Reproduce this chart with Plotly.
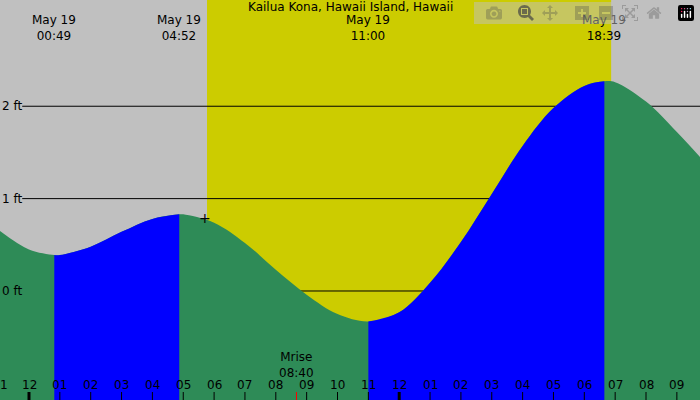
import plotly.graph_objects as go

# tide readings (hours from midnight May 19, feet)
hours = [-0.94, 0, 0.82, 1, 2, 3, 4, 4.87, 5, 6, 7, 8, 9, 10, 11.0, 12, 13, 14, 15, 16, 17, 18, 18.65, 19, 20, 21, 21.75]
feet  = [0.65, 0.45, 0.39, 0.39, 0.48, 0.64, 0.78, 0.83, 0.83, 0.74, 0.52, 0.23, -0.04, -0.25, -0.33, -0.23, 0.09, 0.53, 1.05, 1.57, 1.98, 2.22, 2.27, 2.26, 2.05, 1.72, 1.45]
extreme_hours = [0.82, 4.87, 11.0, 18.65]
extreme_labels = ["May 19<br>00:49", "May 19<br>04:52", "May 19<br>11:00", "May 19<br>18:39"]
sunrise, sunset = 5.77, 18.87
moonrise, moonrise_label = 8.67, "Mrise<br>08:40"
tick_hours = list(range(-1, 22))
tick_labels = ["1" if h == -1 else ("12" if h in (0, 12) else f"{h % 12:02d}") for h in tick_hours]
ft_levels = [0, 1, 2]

X0, X1, Y0, Y1 = -0.94, 21.75, -1.18, 3.15
fig = go.Figure()
base = Y0
fig.add_trace(go.Scatter(x=[X0, X1], y=[base, base], mode="lines", line=dict(width=0), showlegend=False))
fig.add_trace(go.Scatter(x=hours, y=feet, mode="lines", line=dict(width=0, shape="spline"),
                         fill="tonexty", fillcolor="#2e8b57", showlegend=False))
for a, b in [(extreme_hours[0], extreme_hours[1]), (extreme_hours[2], extreme_hours[3])]:
    xs = [h for h in hours if a <= h <= b]
    ys = [f for h, f in zip(hours, feet) if a <= h <= b]
    fig.add_trace(go.Scatter(x=[a, b], y=[base, base], mode="lines", line=dict(width=0), showlegend=False))
    fig.add_trace(go.Scatter(x=xs, y=ys, mode="lines", line=dict(width=0, shape="spline"),
                             fill="tonexty", fillcolor="#0000ff", showlegend=False))

shapes = [dict(type="rect", xref="x", yref="y", x0=X0, x1=X1, y0=Y0, y1=Y1, fillcolor="#c0c0c0", line_width=0, layer="below"),
          dict(type="rect", xref="x", yref="y", x0=sunrise, x1=sunset, y0=Y0, y1=Y1, fillcolor="#cccc00", line_width=0, layer="below")]
for lv in ft_levels:
    shapes.append(dict(type="line", xref="x", yref="y", x0=-0.22, x1=X1, y0=lv, y1=lv, line=dict(color="black", width=1), layer="below"))
for h in tick_hours:
    shapes.append(dict(type="line", xref="x", yref="paper", x0=h, x1=h, y0=0, y1=0.02,
                       line=dict(color="black", width=3 if h in (0, 12) else 1)))
shapes.append(dict(type="line", xref="x", yref="paper", x0=moonrise, x1=moonrise, y0=0, y1=0.02, line=dict(color="red", width=1)))

F = dict(size=12)
ann = [dict(x=0.5, y=1.0, xref="paper", yref="paper", text="Kailua Kona, Hawaii Island, Hawaii", showarrow=False, yanchor="top", yshift=2, font=F)]
for h, t in zip(extreme_hours, extreme_labels):
    ann.append(dict(x=h, y=1.0, xref="x", yref="paper", text=t, showarrow=False, yanchor="top", yshift=-11, font=F))
for lv in ft_levels:
    ann.append(dict(x=0, y=lv, xref="paper", yref="y", text=f"{lv} ft", showarrow=False, xanchor="left", font=F))
for h, t in zip(tick_hours, tick_labels):
    if h == -1:
        ann.append(dict(x=X0, y=0.0, xref="x", yref="paper", text=t, showarrow=False, xanchor="left", yanchor="bottom", yshift=6, xshift=-2, font=F))
    else:
        ann.append(dict(x=h, y=0.0, xref="x", yref="paper", text=t, showarrow=False, yanchor="bottom", yshift=6, font=F))
ann.append(dict(x=moonrise, y=0.0, xref="x", yref="paper", text=moonrise_label, showarrow=False, yanchor="bottom", yshift=18, font=F))
ann.append(dict(x=sunrise - 0.05, y=0.79, xref="x", yref="y", text="+", showarrow=False, font=dict(size=14)))

fig.update_layout(width=700, height=400, margin=dict(l=0, r=0, t=0, b=0), shapes=shapes, annotations=ann,
                  font=dict(family="DejaVu Sans", color="black"), plot_bgcolor="#c0c0c0", paper_bgcolor="#c0c0c0",
                  xaxis=dict(range=[X0, X1], visible=False), yaxis=dict(range=[Y0, Y1], visible=False), showlegend=False)
fig.write_html("out.html")
with open("out.html", encoding="utf-8") as f:
    html = f.read()
html = html.replace("<head>", "<head><style>html,body{margin:0;padding:0;overflow:hidden;}</style>", 1)
with open("out.html", "w", encoding="utf-8") as f:
    f.write(html)
